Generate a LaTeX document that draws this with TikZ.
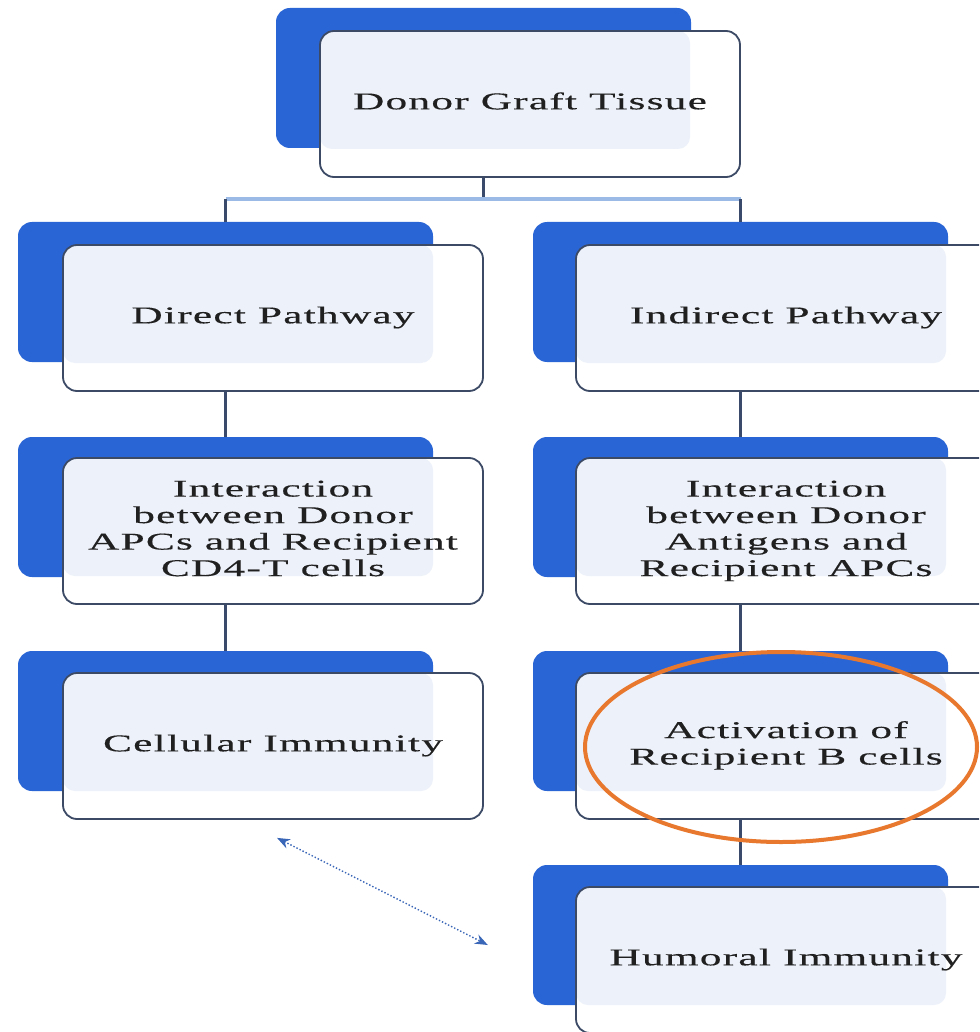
\documentclass[tikz,border=0pt]{standalone}
\usepackage{fontspec}
\setmainfont{Liberation Serif}[LetterSpace=3,FakeBold=0.3]
\usepackage{graphicx}
\usetikzlibrary{arrows.meta,shapes.geometric,calc}
\definecolor{bback}{HTML}{2A65D6}
\definecolor{fborder}{HTML}{3C4A66}
\definecolor{finner}{HTML}{EDF1F9}
\definecolor{conncol}{HTML}{3A4A6A}
\definecolor{hlinecol}{HTML}{9BBBE6}
\definecolor{arrcol}{HTML}{3A66B8}
\definecolor{ringcol}{HTML}{E8782E}
\definecolor{txt}{HTML}{202020}
\newcommand\lbl[1]{\scalebox{1.8}[1]{\begin{tabular}{@{}c@{}}#1\end{tabular}}}
\tikzset{
  backbox/.style={fill=bback, rounded corners=14pt, minimum width=415pt, minimum height=140pt, inner sep=0pt},
  frontbox/.style={fill=white, draw=fborder, line width=1.8pt, rounded corners=14pt,
    minimum width=420pt, minimum height=146pt, inner sep=0pt, text=txt,
    font=\fontsize{24}{26.5}\selectfont,
    path picture={\fill[finner, rounded corners=12pt] (path picture bounding box.north west) rectangle ++(370,118);}},
  conn/.style={draw=conncol, line width=2.2pt},
  hline/.style={draw=hlinecol, line width=3.5pt},
  ring/.style={draw=ringcol, line width=4pt, ellipse, minimum width=392pt, minimum height=190pt, inner sep=0pt}
}
\begin{document}
\begin{tikzpicture}[x=1pt,y=-1pt]
\clip (0,0) rectangle (979,1032);
\fill[white] (0,0) rectangle (979,1032);
% back boxes (blue)
\node[backbox] (top-b) at (483.5,78) {};
\node[backbox] (dp-b) at (225.5,292) {};
\node[backbox] (ip-b) at (740.5,292) {};
\node[backbox] (ia1-b) at (225.5,507) {};
\node[backbox] (ia2-b) at (740.5,507) {};
\node[backbox] (cell-b) at (225.5,721) {};
\node[backbox] (act-b) at (740.5,721) {};
\node[backbox] (hum-b) at (740.5,935) {};
% connectors
\coordinate (split) at (483.5,199);
\draw[conn] (top-b.center) -- (split);
\draw[hline] (split -| dp-b) -- (split -| ip-b);
\draw[conn] (split -| dp-b) -- (dp-b.north);
\draw[conn] (split -| ip-b) -- (ip-b.north);
\draw[conn] (dp-b.center) -- (ia1-b.north);
\draw[conn] (ip-b.center) -- (ia2-b.north);
\draw[conn] (ia1-b.center) -- (cell-b.north);
\draw[conn] (ia2-b.center) -- (act-b.north);
\draw[conn] (act-b.center) -- (hum-b.north);
% front boxes
\node[frontbox] (top) at (530,104) {\lbl{Donor Graft Tissue}};
\node[frontbox] (dp) at (273,318) {\lbl{Direct Pathway}};
\node[frontbox] (ip) at (786,318) {\lbl{Indirect Pathway}};
\node[frontbox] (ia1) at (273,531) {\lbl{Interaction\\between Donor\\APCs and Recipient\\CD4-T cells}};
\node[frontbox] (ia2) at (786,531) {\lbl{Interaction\\between Donor\\Antigens and\\Recipient APCs}};
\node[frontbox] (cell) at (273,746) {\lbl{Cellular Immunity}};
\node[frontbox] (act) at (786,746) {\lbl{Activation of\\Recipient B cells}};
\node[frontbox] (hum) at (786,960) {\lbl{Humoral Immunity}};
% highlight ring
\node[ring] (ring) at (781,747) {};
% dotted double arrow
\coordinate (arrA) at ($(cell.south)+(4,18)$);
\coordinate (arrB) at ($(hum-b.west)+(-45,10)$);
\draw[arrcol, line width=1.4pt, dotted, {Stealth[length=13pt,width=10pt]}-{Stealth[length=13pt,width=10pt]}] (arrA) -- (arrB);
\end{tikzpicture}
\end{document}
